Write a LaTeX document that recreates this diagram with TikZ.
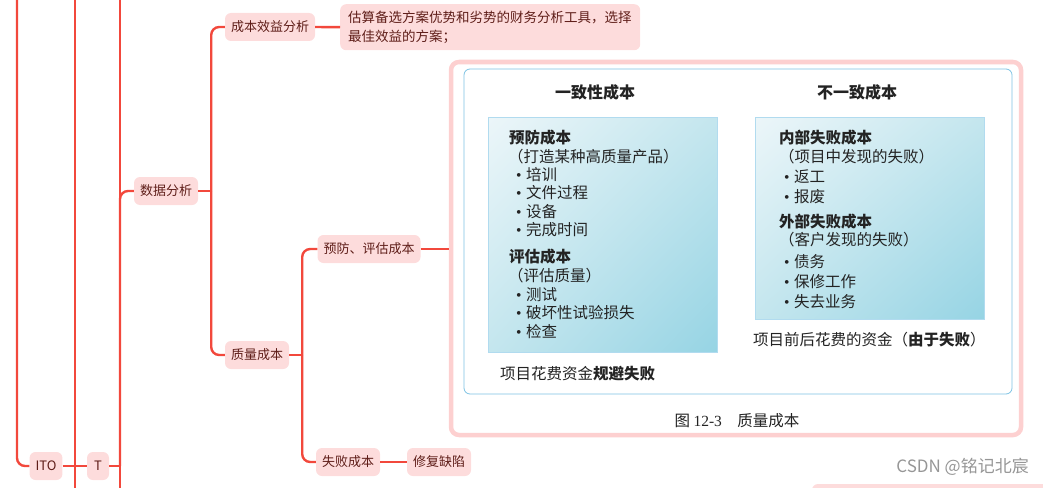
\documentclass[tikz,border=0pt]{standalone}
\usepackage{fontspec}
\setmainfont{Noto Sans CJK SC}
\newfontfamily\numfont{Liberation Serif}
\usetikzlibrary{positioning, calc, shadings}
\definecolor{MapRed}{RGB}{242,72,60}
\definecolor{MapPink}{RGB}{253,220,220}
\definecolor{MapText}{RGB}{95,30,25}
\definecolor{FrameRose}{RGB}{253,208,208}
\definecolor{BookBlue}{RGB}{125,195,228}
\definecolor{BookInk}{RGB}{35,35,35}
\definecolor{ShadeLight}{RGB}{236,246,249}
\definecolor{ShadeMid}{RGB}{196,230,238}
\definecolor{ShadeDark}{RGB}{150,212,228}
\definecolor{MarkGray}{RGB}{150,150,150}

\begin{document}
\begin{tikzpicture}[x=1pt, y=-1pt,
	topic/.style={fill=MapPink, rounded corners=6, text=MapText, minimum height=28,
		inner xsep=6, font=\fontsize{13}{15}\selectfont},
	link/.style={draw=MapRed, line width=2.4, rounded corners=8},
	bk/.style={anchor=west, text=BookInk, inner sep=0, font=\fontsize{15.5}{18}\selectfont},
	bkhead/.style={bk, font=\fontsize{15.5}{18}\selectfont\bfseries}]
	\useasboundingbox (0,0) rectangle (1043,487);
	\clip (0,0) rectangle (1043,487);

	\coordinate (top0) at (17,-5);
	\coordinate (top1) at (75,-5);
	\coordinate (bot1) at (75,492);
	\coordinate (top2) at (120,-5);
	\coordinate (bot2) at (120,492);

	\node[topic] (ito) at (46,466) {ITO};
	\node[topic, minimum width=22] (tn) at (98,466) {T};
	\node[topic] (dat) at (166,191) {数据分析};
	\node[topic] (cba) at (270,27) {成本效益分析};
	\node[topic] (qc) at (257,355) {质量成本};
	\node[topic] (pac) at (369,249) {预防、评估成本};
	\node[topic] (fc) at (348,462) {失败成本};
	\node[topic] (fix) at (439,462) {修复缺陷};
	\node[topic, anchor=north west, align=left, minimum width=300, minimum height=46,
		inner xsep=8, text width=284, font=\fontsize{13.5}{19}\selectfont] (desc) at (340,4)
		{估算备选方案优势和劣势的财务分析工具，选择\\最佳效益的方案；};
	\node[draw=FrameRose, line width=4.5, rounded corners=8, fill=white, inner sep=0,
		minimum width=570, minimum height=373] (img) at (736,248.5) {};
	\fill[MapPink, rounded corners=6] (812,484) rectangle (1060,520);

	\draw[link] (top0) |- (ito.west);
	\draw[link] (top1) -- (bot1);
	\draw[link] (top2) -- (bot2);
	\draw[link] (ito.east) -- (tn.west);
	\draw[link] (tn.east) -- (tn.east -| top2);
	\draw[link] (tn.east -| top2) |- (dat.west);
	\draw[link] (dat.east) -- ++(13,0) coordinate (j1);
	\draw[link] (j1) |- (cba.west);
	\draw[link] (j1) |- (qc.west);
	\draw[link] (cba.east) -- (desc.west);
	\draw[link] (qc.east) -- ++(13,0) coordinate (j2);
	\draw[link] (j2) |- (pac.west);
	\draw[link] (j2) |- (fc.west);
	\draw[link] (pac.east) -- (pac.east -| img.west);
	\draw[link] (fc.east) -- (fix.west);

	% figure 12-3
	\draw[BookBlue, line width=0.8, rounded corners=6] (464,69) rectangle (1012,394);
	\shade[upper left=ShadeLight, upper right=ShadeMid, lower left=ShadeMid, lower right=ShadeDark]
		(488,117) rectangle (717,352);
	\shade[upper left=ShadeLight, upper right=ShadeMid, lower left=ShadeMid, lower right=ShadeDark]
		(755,117) rectangle (984,319);
	\draw[BookBlue!60, line width=0.5] (488,117) rectangle (717,352);
	\draw[BookBlue!60, line width=0.5] (755,117) rectangle (984,319);

	\node[bkhead, anchor=center, font=\fontsize{16}{18}\selectfont\bfseries] (ct) at (595,92) {一致性成本};
	\node[bkhead, anchor=center, font=\fontsize{16}{18}\selectfont\bfseries] (nct) at (857,92) {不一致成本};

	\foreach \t/\xx/\yy [count=\i] in {
		预防成本/509/138, 评估成本/509/257, 内部失败成本/779/138, 外部失败成本/779/222}
		\node[bkhead] (head\i) at (\xx,\yy) {\t};
	\foreach \t/\xx/\yy [count=\i] in {
		（打造某种高质量产品）/508/157, （评估质量）/508/276,
		（项目中发现的失败）/779/157, （客户发现的失败）/779/240}
		\node[bk] (par\i) at (\xx,\yy) {\t};
	\foreach \t/\xx/\yy [count=\i] in {
		培训/516/175, 文件过程/516/193, 设备/516/212, 完成时间/516/230,
		测试/516/295, 破坏性试验损失/516/313, 检查/516/332,
		返工/784/177, 报废/784/197, 债务/784/262, 保修工作/784/282, 失去业务/784/302}
		\node[bk] (itm\i) at (\xx,\yy) {{\numfont •}\hspace{4.5pt}\t};

	\node[bk] (pay) at (500,374) {项目花费资金\textbf{规避失败}};
	\node[bk] (fail) at (753,340) {项目前后花费的资金（\textbf{由于失败}）};
	\node[bk, anchor=center] (cap) at (737,421) {图 {\numfont 12-3}\quad 质量成本};

	\node[anchor=east, text=MarkGray, inner sep=0, font=\fontsize{17}{19}\selectfont] (wm)
		at (1029,467) {CSDN @铭记北宸};
\end{tikzpicture}
\end{document}
